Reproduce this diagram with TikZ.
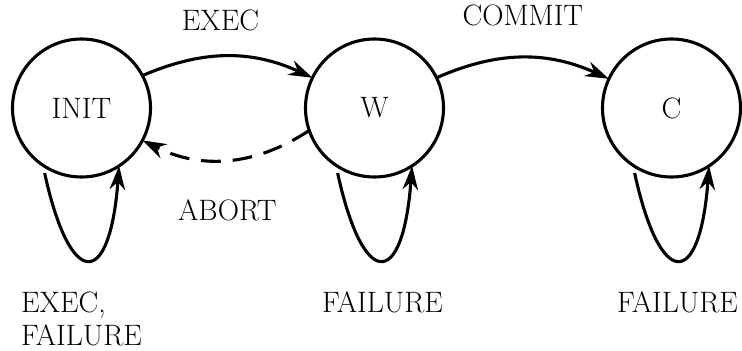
\documentclass[tikz,border=0pt]{standalone}
\usepackage{fontspec}
\usetikzlibrary{arrows.meta}
\usetikzlibrary{positioning}
\tikzset{
  state/.style={circle, draw, line width=2.2pt, minimum size=3.45cm, inner sep=0, outer sep=0},
  arrow/.style={-{Stealth[length=17pt, width=11pt, inset=5.5pt]}, line width=2.2pt},
  dashedarrow/.style={arrow, dash pattern=on 14pt off 8.5pt}
}

\begin{document}
\begin{tikzpicture}

\fontsize{21}{23.4}\selectfont
\useasboundingbox (-2.0375,-6.075) rectangle (16.5125,2.7);

  % states
  \node[state] (init) {INIT};
  \node[state, right=3.875cm of init] (w) {W};
  \node[state, right=3.975cm of w] (c) {C};

  % self-loop labels
  \node[below=2.62cm of init, align=left] (initloop) {EXEC,\\FAILURE};
  \node[below=2.62cm of w, xshift=2mm] (wloop) {FAILURE};
  \node[below=2.62cm of c, xshift=1.5mm] (cloop) {FAILURE};

  % transitions
  \draw [arrow] (init.28) to[bend left=24] node[above=3.5mm, xshift=-1.8mm] {EXEC} (w.154);
  \draw [arrow] (w.26) to[bend left=24] node[above=5mm] {COMMIT} (c.155);
  \draw [dashedarrow] (w.199) to[bend left=30] node[below=7mm] {ABORT} (init.332);

  % self-loops
  \draw [arrow, shorten <=2mm] (init.236) .. controls +(0.68,-3.12) and +(-0.23,-3.1) .. (init.303);
  \draw [arrow, shorten <=2mm] (w.236) .. controls +(0.68,-3.12) and +(-0.23,-3.1) .. (w.303);
  \draw [arrow, shorten <=2mm] (c.236) .. controls +(0.68,-3.12) and +(-0.23,-3.1) .. (c.303);
\end{tikzpicture}
\end{document}
